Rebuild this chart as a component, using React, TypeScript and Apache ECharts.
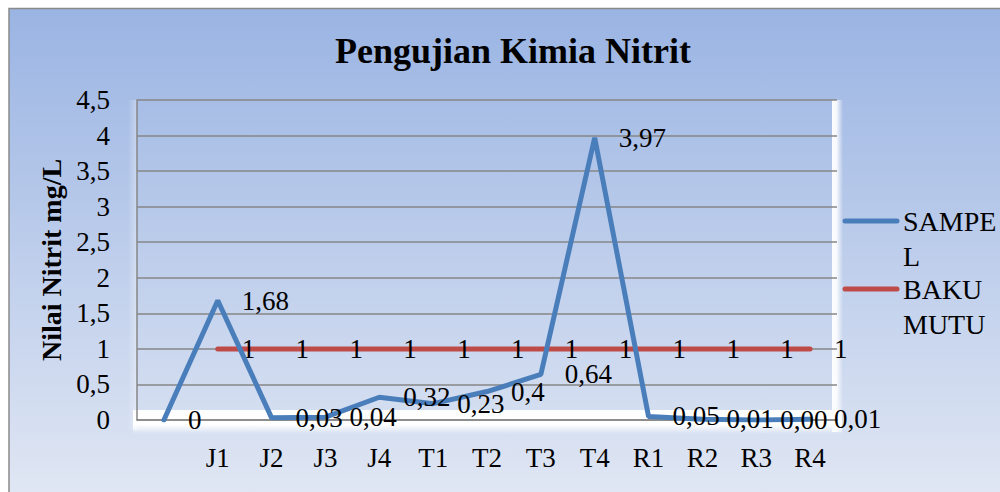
import React, { useEffect, useRef } from "react";
import * as echarts from "echarts";

const categories = ["", "J1", "J2", "J3", "J4", "T1", "T2", "T3", "T4", "R1", "R2", "R3", "R4"];
const sampelValues = [0, 1.68, 0.03, 0.04, 0.32, 0.23, 0.4, 0.64, 3.97, 0.05, 0.01, 0.0, 0.01];
const sampelLabels = ["0", "1,68", "0,03", "0,04", "0,32", "0,23", "0,4", "0,64", "3,97", "0,05", "0,01", "0,00", "0,01"];
const bakuValues = [null, 1, 1, 1, 1, 1, 1, 1, 1, 1, 1, 1, 1];
const bakuLabels = ["", "1", "1", "1", "1", "1", "1", "1", "1", "1", "1", "1", "1"];
const yTicks = { min: 0, max: 4.5, interval: 0.5 };
const legendItems = [
  { name: "SAMPEL", lines: ["SAMPE", "L"], color: "#4a7ebb" },
  { name: "BAKU MUTU", lines: ["BAKU", "MUTU"], color: "#be4b48" },
];

const FONT = "'Liberation Serif', 'Times New Roman', serif";

export default function App() {
  const ref = useRef<HTMLDivElement>(null);
  useEffect(() => {
    if (!ref.current) return;
    const chart = echarts.init(ref.current, null, { renderer: "svg" });
    const labelStyle = { fontFamily: FONT, fontSize: 27, color: "#000" };

    const legendGraphics: any[] = [];
    legendItems.forEach((it, i) => {
      const y0 = 221 + i * 68;
      legendGraphics.push({
        type: "line",
        z: 50,
        shape: { x1: 845, y1: y0, x2: 897, y2: y0 },
        style: { stroke: it.color, lineWidth: 5, lineCap: "round" },
      });
      it.lines.forEach((t, j) => {
        legendGraphics.push({
          type: "text",
          z: 50,
          x: 903,
          y: y0 + j * 35,
          style: { text: t, fontFamily: FONT, fontSize: 28, fill: "#000", textVerticalAlign: "middle", verticalAlign: "middle" },
        });
      });
    });

    chart.setOption({
      animation: false,
      title: {
        text: "Pengujian Kimia Nitrit",
        left: 508,
        textAlign: "center",
        top: 28,
        textStyle: { fontFamily: FONT, fontSize: 36, fontWeight: "bold", color: "#000" },
      },
      grid: { left: 137, right: 163, top: 100, bottom: 72, containLabel: false },
      xAxis: {
        type: "category",
        data: categories,
        boundaryGap: true,
        axisLine: { show: true, lineStyle: { color: "#868686", width: 1.5 } },
        axisTick: { show: false },
        axisLabel: { ...labelStyle, margin: 24 },
      },
      yAxis: {
        type: "value",
        min: yTicks.min,
        max: yTicks.max,
        interval: yTicks.interval,
        name: "Nilai Nitrit mg/L",
        nameLocation: "middle",
        nameGap: 72,
        nameRotate: 90,
        nameTextStyle: { fontFamily: FONT, fontSize: 28, fontWeight: "bold", color: "#000" },
        axisLine: { show: true, lineStyle: { color: "#868686", width: 1.5 } },
        axisTick: { show: false },
        splitLine: { show: true, lineStyle: { color: "#868686", width: 1.5 } },
        axisLabel: {
          ...labelStyle,
          margin: 27,
          formatter: (v: number) => String(v).replace(".", ","),
        },
      },
      graphic: [
        {
          type: "rect",
          z: -100,
          silent: true,
          shape: { x: 9, y: 8.5, width: 1000, height: 500 },
          style: {
            fill: new echarts.graphic.LinearGradient(0, 0, 0, 1, [
              { offset: 0, color: "#9ab4e3" },
              { offset: 1, color: "#e2e8f4" },
            ]),
            stroke: "#8a8a8a",
            lineWidth: 1.5,
          },
        },
        {
          type: "rect",
          z: -50,
          silent: true,
          shape: { x: 128, y: 100, width: 9, height: 330 },
          style: {
            fill: new echarts.graphic.LinearGradient(0, 0, 1, 0, [
              { offset: 0, color: "rgba(255,255,255,0)" },
              { offset: 1, color: "rgba(255,255,255,0.35)" },
            ]),
          },
        },
        {
          type: "rect",
          z: -50,
          silent: true,
          shape: { x: 832, y: 100, width: 11, height: 332 },
          style: {
            fill: new echarts.graphic.LinearGradient(0, 0, 1, 0, [
              { offset: 0, color: "rgba(255,255,255,0.95)" },
              { offset: 0.4, color: "rgba(255,255,255,0.9)" },
              { offset: 1, color: "rgba(255,255,255,0)" },
            ]),
          },
        },
        {
          type: "rect",
          z: -50,
          silent: true,
          shape: { x: 133, y: 410, width: 709, height: 24 },
          style: {
            fill: new echarts.graphic.LinearGradient(0, 0, 0, 1, [
              { offset: 0, color: "rgba(255,255,255,0.95)" },
              { offset: 0.6, color: "rgba(255,255,255,1)" },
              { offset: 1, color: "rgba(255,255,255,0)" },
            ]),
          },
        },
        ...legendGraphics,
      ],
      series: [
        {
          name: "BAKU MUTU",
          type: "line",
          data: bakuValues,
          z: 3,
          symbol: "circle",
          symbolSize: 0,
          itemStyle: { color: "#be4b48" },
          lineStyle: { color: "#be4b48", width: 5, cap: "round" },
          label: {
            show: true,
            position: "right",
            distance: 24,
            ...labelStyle,
            formatter: (p: any) => bakuLabels[p.dataIndex],
          },
        },
        {
          name: "SAMPEL",
          type: "line",
          data: sampelValues,
          z: 4,
          symbol: "circle",
          symbolSize: 0,
          itemStyle: { color: "#4a7ebb" },
          lineStyle: { color: "#4a7ebb", width: 5, cap: "round" },
          label: {
            show: true,
            position: "right",
            distance: 24,
            ...labelStyle,
            formatter: (p: any) => sampelLabels[p.dataIndex],
          },
        },
      ],
    });
    return () => chart.dispose();
  }, []);
  return (
    <div
      ref={ref}
      style={{ position: "fixed", left: 0, top: 0, width: 1000, height: 492, overflow: "hidden", background: "#fff" }}
    />
  );
}
